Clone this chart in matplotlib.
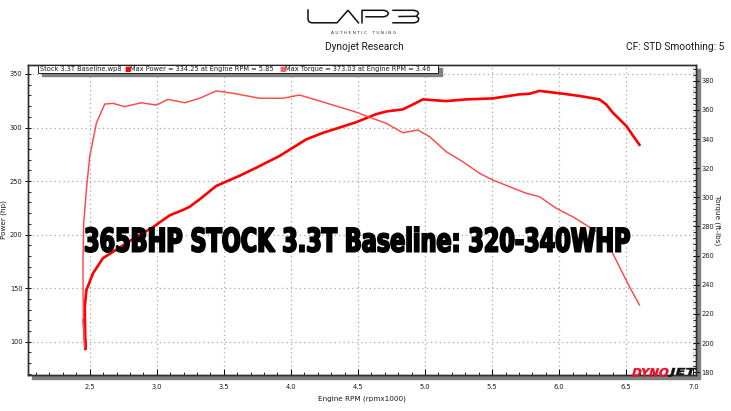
"""Dyno sheet: LAP3 stock 3.3T baseline run (power + torque vs engine RPM)."""

import matplotlib

matplotlib.use("Agg")

import matplotlib.pyplot as plt
from matplotlib.font_manager import FontProperties
from matplotlib.lines import Line2D
from matplotlib.patches import PathPatch, Rectangle
from matplotlib.textpath import TextPath
from matplotlib.ticker import AutoMinorLocator
from matplotlib.transforms import Affine2D

W, H = 731, 411

# data (rpm x1000)
power_rpm = [2.455, 2.468, 2.463, 2.475, 2.525, 2.599, 2.724, 2.848, 2.972, 3.096,
             3.195, 3.245, 3.320, 3.444, 3.618, 3.742, 3.916, 4.115, 4.238, 4.363,
             4.487, 4.586, 4.636, 4.711, 4.835, 4.909, 4.984, 5.158, 5.307, 5.505,
             5.704, 5.779, 5.853, 6.027, 6.151, 6.300, 6.350, 6.400, 6.500, 6.598]
power_hp = [120, 93, 132, 148, 164, 178, 188, 198, 207, 218,
            223, 226, 233, 245.5, 255, 262.5, 273.5, 289, 295, 300,
            305, 310, 312.5, 315, 317, 321.5, 326.3, 324.7, 326.3, 327.2,
            331, 331.5, 334.25, 331.6, 329.5, 326.3, 321.6, 313.9, 301.5, 283.9]

torque_rpm = [2.462, 2.452, 2.450, 2.455, 2.475, 2.500, 2.550, 2.612, 2.674, 2.760,
              2.885, 2.997, 3.083, 3.210, 3.320, 3.444, 3.568, 3.767, 3.941, 4.065,
              4.189, 4.314, 4.438, 4.512, 4.586, 4.711, 4.835, 4.946, 5.034, 5.158,
              5.282, 5.406, 5.505, 5.630, 5.754, 5.853, 5.978, 6.101, 6.201, 6.300,
              6.375, 6.449, 6.524, 6.598]
torque_ftlb = [197, 216, 255, 282, 305, 328, 351, 364, 364.5, 362.2,
               364.9, 363.3, 367.2, 364.9, 368, 373.03, 371.4, 368, 368, 370.2,
               366.8, 363.3, 359.9, 357.6, 354.9, 350.8, 344.3, 346.2, 341.6, 331.3,
               324.4, 316.5, 311.9, 307.3, 302.8, 300.4, 292.5, 286.7, 281, 275.3,
               266.1, 252.4, 238.7, 226.2]

rpm_ticks = [2.5, 3.0, 3.5, 4.0, 4.5, 5.0, 5.5, 6.0, 6.5, 7.0]
hp_ticks = [100, 150, 200, 250, 300, 350]
tq_ticks = [180, 200, 220, 240, 260, 280, 300, 320, 340, 360, 380]

run_name = "Stock 3.3T Baseline.wp8"
max_power, max_power_rpm = 334.25, 5.85
max_torque, max_torque_rpm = 373.03, 3.46
overlay_text = "365BHP STOCK 3.3T Baseline: 320-340WHP"

POWER_RED = "#ff0000"
TORQUE_RED = "#ff4848"
TXT = "#1a1a1a"
SMALL = 4.8


def fx(x):
    return x / W


def fy(y):
    return 1 - y / H


def text_in_box(fig, s, left, top, right, bottom, color, prop, skew=0.0, lw=0.0, z=6):
    """Stretch a string so it fills a pixel box (top-left origin)."""
    tp = TextPath((0, 0), s, size=10, prop=prop)
    bb = tp.get_extents()
    sx = (right - left) / bb.width
    sy = (bottom - top) / bb.height
    tr = (Affine2D().translate(-bb.x0, -bb.y0).scale(sx, sy).skew_deg(skew, 0)
          .translate(left, H - bottom))
    patch = PathPatch(tp, transform=tr, facecolor=color, edgecolor=color, lw=lw, zorder=z)
    fig.add_artist(patch)


fig = plt.figure(figsize=(W / 100, H / 100), dpi=100)
fig.patch.set_facecolor("white")

# drop shadow behind the plot frame
fig.add_artist(Rectangle((fx(32), fy(379)), (700 - 32) / W, (379 - 69) / H,
                         transform=fig.transFigure, color="#808080", zorder=-1))

ax = fig.add_axes([fx(28), fy(375), 668 / W, 310 / H])
ax.set_xlim(2.04, 7.02)
ax.set_ylim(68.9, 358.4)
ax.set_xticks(rpm_ticks)
ax.set_xticklabels([f"{v:.1f}" for v in rpm_ticks])
ax.set_yticks(hp_ticks)
ax.xaxis.set_minor_locator(AutoMinorLocator(5))
ax.yaxis.set_minor_locator(AutoMinorLocator(5))
ax.grid(True, which="major", color="#a8a8a8", ls=(0, (1, 2.5)), lw=0.9)
ax.tick_params(which="major", direction="inout", length=4, width=0.7, labelsize=SMALL,
               labelcolor=TXT, pad=2)
ax.tick_params(which="minor", direction="in", length=2.5, width=0.6)
ax.tick_params(axis="x", which="both", direction="in", pad=6.5)
ax.set_xlabel("Engine RPM (rpmx1000)", fontsize=SMALL + 0.4, color=TXT)
ax.xaxis.set_label_coords(0.5, -0.067)
ax.set_ylabel("Power (hp)", fontsize=SMALL + 0.4, color=TXT)
ax.yaxis.set_label_coords(-0.031, 0.5)
for sp in ax.spines.values():
    sp.set_color("#303030")
    sp.set_linewidth(1.0)
ax.plot(power_rpm, power_hp, color=POWER_RED, lw=1.9, zorder=3)

ax2 = ax.twinx()
ax2.set_ylim(178.1, 390.8)
ax2.set_yticks(tq_ticks)
ax2.yaxis.set_minor_locator(AutoMinorLocator(5))
ax2.tick_params(which="major", direction="inout", length=5, width=0.7, labelsize=SMALL,
                labelcolor=TXT, pad=1.5)
ax2.tick_params(which="minor", direction="in", length=2.5, width=0.6)
ax2.set_ylabel("Torque (ft-lbs)", fontsize=SMALL + 0.4, color=TXT, rotation=-90)
ax2.yaxis.set_label_coords(1.037, 0.5)
for sp in ax2.spines.values():
    sp.set_color("#303030")
    sp.set_linewidth(1.0)
ax2.plot(torque_rpm, torque_ftlb, color=TORQUE_RED, lw=1.05, zorder=3)

# legend strip in the top-left corner
fig.add_artist(Rectangle((fx(42), fy(76)), 400 / W, 8 / H, transform=fig.transFigure,
                         color="#808080", zorder=4))
fig.add_artist(Rectangle((fx(38), fy(72.7)), 400 / W, 7.7 / H, transform=fig.transFigure,
                         facecolor="white", edgecolor="#202020", lw=0.7, zorder=4))
ly = fy(69)
fig.text(fx(40), ly, run_name, fontsize=SMALL, color=TXT, va="center", zorder=5)
fig.text(fx(124), ly, "\u25a0", fontsize=SMALL, color=POWER_RED, va="center", zorder=5)
fig.text(fx(130), ly, f"Max Power = {max_power:.2f} at Engine RPM = {max_power_rpm:.2f}",
         fontsize=SMALL, color=TXT, va="center", zorder=5)
fig.text(fx(279), ly, "\u25a0", fontsize=SMALL, color="#ff6060", va="center", zorder=5)
fig.text(fx(285), ly, f"Max Torque = {max_torque:.2f} at Engine RPM = {max_torque_rpm:.2f}",
         fontsize=SMALL, color=TXT, va="center", zorder=5)

# header
fig.text(fx(364), fy(47.5), "Dynojet Research", fontsize=7.3, family="Roboto",
         ha="center", va="center", color=TXT)
fig.text(fx(724), fy(47.5), "CF: STD Smoothing: 5", fontsize=7.3, family="Roboto",
         ha="right", va="center", color=TXT)

# LAP3 logo strokes
logo_strokes = [
    [(308, 10), (308, 19.5), (309, 21.8), (311.5, 22.8), (337, 22.8), (348, 10.3), (358.5, 22.8)],
    [(362, 22.8), (362, 10.3), (384, 10.3), (387, 11.3), (388.5, 13.5), (387, 15.7),
     (384, 16.8), (366, 16.8)],
    [(393, 10.3), (414, 10.3), (417.5, 11.5), (418.5, 13.5), (416.5, 16.3), (399, 16.5)],
    [(416.5, 16.3), (418.8, 18.5), (418, 21.5), (414.5, 22.8), (393, 22.8)],
]
for stroke in logo_strokes:
    xs = [fx(p[0]) for p in stroke]
    ys = [fy(p[1]) for p in stroke]
    fig.add_artist(Line2D(xs, ys, transform=fig.transFigure, color="#111111", lw=1.1))
fig.text(fx(364), fy(33), "A U T H E N T I C    T U N I N G", fontsize=3.2,
         ha="center", va="center", color="#333333")

# big overlay caption
bold = FontProperties(family="DejaVu Sans", weight="bold")
text_in_box(fig, overlay_text, 85.5, 227, 629.5, 252, "black", bold, lw=1.4)

# DYNOJET mark, bottom right
heavy = FontProperties(family="DejaVu Sans", weight="bold")
text_in_box(fig, "DYNO", 632, 368, 667, 376.7, "#e8102a", heavy, skew=15, lw=0.3)
text_in_box(fig, "JET", 668, 368, 694, 376.7, "#111111", heavy, skew=15, lw=0.3)

fig.savefig("out.png", dpi=100)
plt.close(fig)
